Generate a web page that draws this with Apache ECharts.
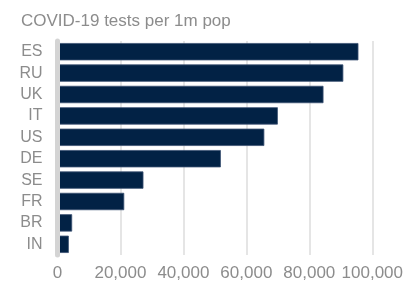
<!DOCTYPE html>
<html>
<head>
<meta charset="utf-8">
<script src="https://cdn.jsdelivr.net/npm/echarts@6/dist/echarts.min.js"></script>
<style>
  html, body { margin: 0; padding: 0; background: #fff; }
  #chart0 { width: 406px; height: 283px; }
</style>
</head>
<body>
<div id="chart0"></div>
<script>
var countries = ['ES', 'RU', 'UK', 'IT', 'US', 'DE', 'SE', 'FR', 'BR', 'IN']
var testsPer1m = [95600, 90800, 84500, 70000, 65700, 51900, 27300, 21200, 4650, 3600]
var xTicks = [0, 20000, 40000, 60000, 80000, 100000]

;(function () {
  var chart0 = echarts.init(document.getElementById('chart0'))
  var font = '"Liberation Sans", Arial, sans-serif'
  var option0 = {
    animation: false,
    title: {
      text: 'COVID-19 tests per 1m pop',
      left: 16,
      top: 8,
      textStyle: { color: '#8c8c8c', fontSize: 17, fontWeight: 'normal', fontFamily: font }
    },
    grid: { left: 57.5, right: 32, top: 41, bottom: 28, containLabel: false },
    xAxis: {
      type: 'value',
      min: xTicks[0],
      max: xTicks[xTicks.length - 1],
      interval: xTicks[1] - xTicks[0],
      axisLine: { show: false },
      axisTick: { show: false },
      splitLine: { lineStyle: { color: '#dcdcdc', width: 1.5 } },
      axisLabel: {
        color: '#8c8c8c', fontSize: 17, fontFamily: font, margin: 10,
        formatter: function (v) { return v.toLocaleString('en-US') }
      }
    },
    yAxis: {
      type: 'category',
      inverse: true,
      data: countries,
      z: 5,
      axisLine: { lineStyle: { color: '#d4d4d4', width: 5 } },
      axisTick: { show: false },
      axisLabel: { color: '#8c8c8c', fontSize: 16, fontFamily: font, margin: 15 }
    },
    series: [{
      type: 'bar',
      data: testsPer1m,
      barCategoryGap: '19%',
      itemStyle: { color: '#022245', borderColor: '#3b5272', borderWidth: 0.8 }
    }]
  }
  chart0.setOption(option0)
})()
</script>
</body>
</html>
